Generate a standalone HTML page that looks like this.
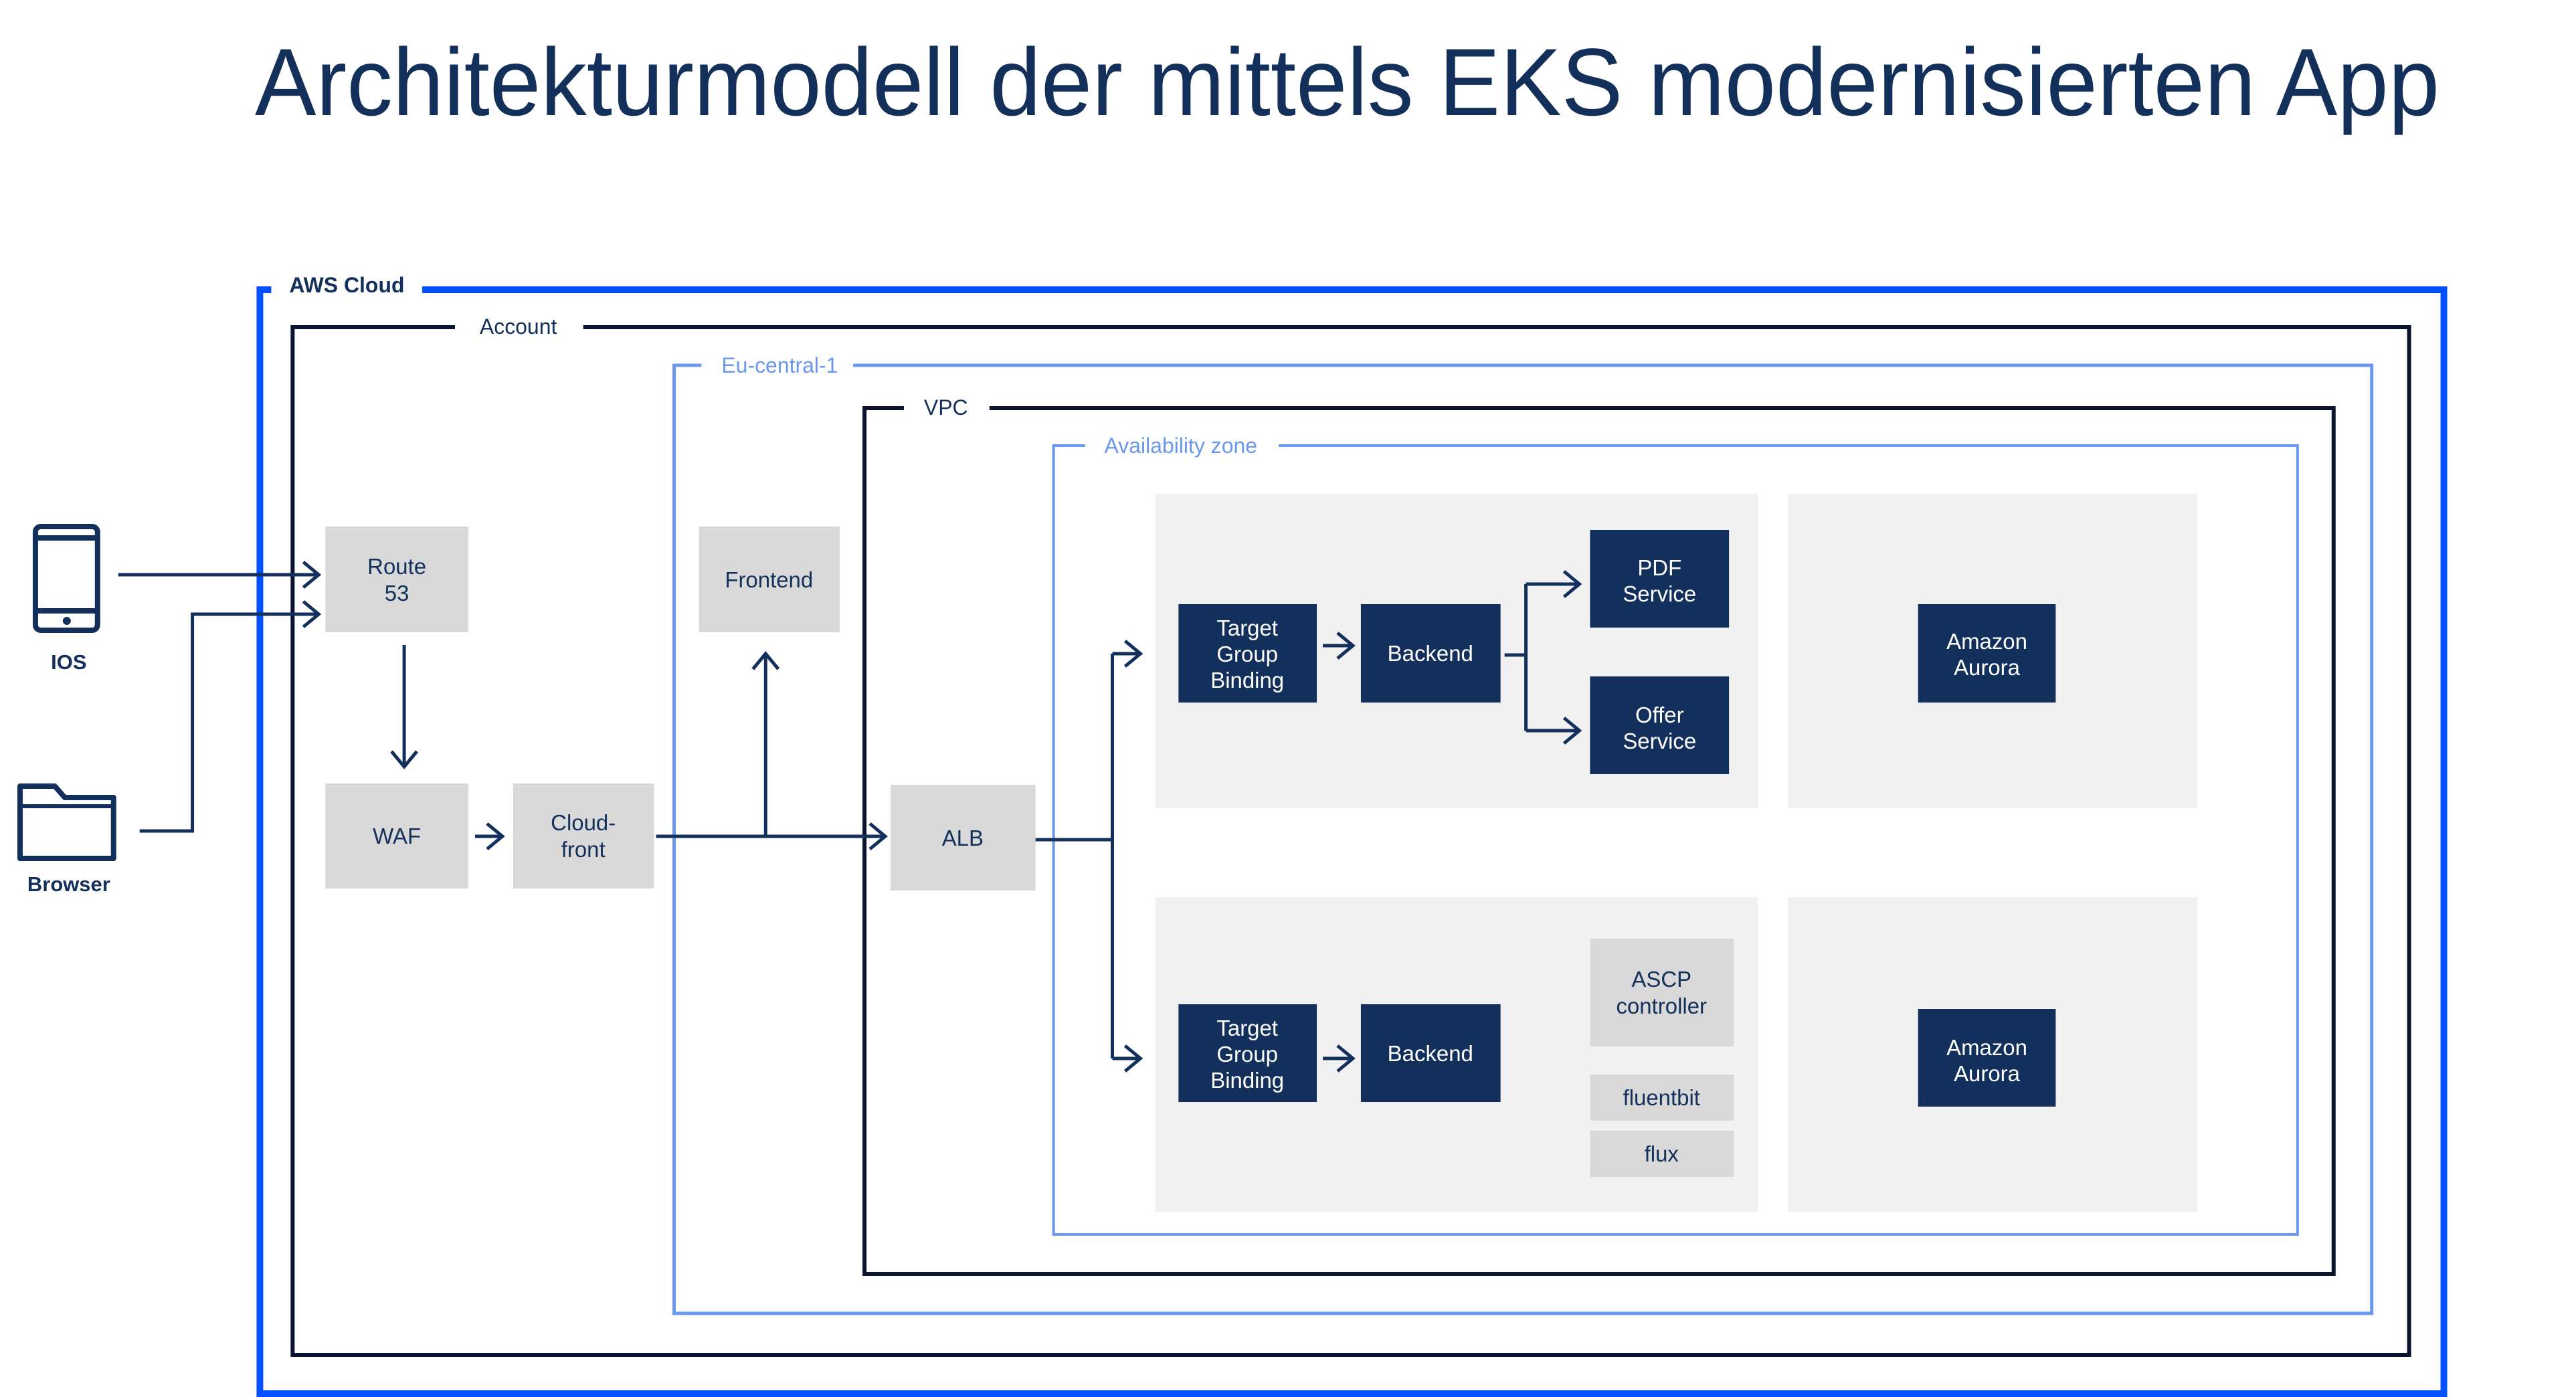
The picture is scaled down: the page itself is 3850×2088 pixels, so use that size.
<!DOCTYPE html>
<html><head><meta charset="utf-8"><style>
html,body{margin:0;padding:0;background:#fff;}
svg{display:block;}
text{font-family:"Liberation Sans",Arial,sans-serif;}
</style></head><body>
<svg width="3850" height="2088" viewBox="0 0 3850 2088" xmlns="http://www.w3.org/2000/svg">
<defs>
<marker id="a" markerWidth="30" markerHeight="44" refX="26" refY="22" orient="auto" markerUnits="userSpaceOnUse">
<path d="M3,3 L26,22 L3,41" fill="none" stroke="#132f5c" stroke-width="5"/>
</marker>
</defs>
<rect width="3850" height="2088" fill="#fff"/>
<text x="381" y="172" font-size="143" fill="#13305b" textLength="3265" lengthAdjust="spacingAndGlyphs">Architekturmodell der mittels EKS modernisierten App</text>
<g transform="scale(0.9985 1)">
<!-- containers -->
<rect x="389" y="433" width="3269" height="1650" fill="none" stroke="#0050ff" stroke-width="10"/>
<rect x="406" y="415" width="226" height="30" fill="#fff"/>
<text x="433" y="437" font-size="32" font-weight="bold" fill="#13305b">AWS Cloud</text>

<rect x="438" y="489" width="3168" height="1536" fill="none" stroke="#0a1330" stroke-width="6"/>
<rect x="681" y="475" width="192" height="30" fill="#fff"/>
<text x="718" y="499" font-size="32" fill="#13305b">Account</text>

<rect x="1009" y="546" width="2541" height="1417" fill="none" stroke="#6a98f0" stroke-width="5"/>
<rect x="1050" y="530" width="227" height="30" fill="#fff"/>
<text x="1080" y="557" font-size="32" fill="#6a98f0">Eu-central-1</text>

<rect x="1294" y="610" width="2199" height="1294" fill="none" stroke="#0a1330" stroke-width="6"/>
<rect x="1353" y="595" width="128" height="30" fill="#fff"/>
<text x="1383" y="620" font-size="32" fill="#13305b">VPC</text>

<rect x="1577" y="666" width="1862" height="1179" fill="none" stroke="#6a98f0" stroke-width="4"/>
<rect x="1624" y="652" width="290" height="30" fill="#fff"/>
<text x="1653" y="677" font-size="32" fill="#6a98f0">Availability zone</text>

<!-- panels -->
<g fill="#f1f1f1">
<rect x="1729" y="738" width="902" height="470"/>
<rect x="2676" y="738" width="613" height="470"/>
<rect x="1729" y="1341" width="902" height="470"/>
<rect x="2676" y="1341" width="613" height="470"/>
</g>

<!-- light boxes -->
<g fill="#d9d9d9">
<rect x="487" y="787" width="214" height="158"/>
<rect x="487" y="1171" width="214" height="157"/>
<rect x="768" y="1171" width="211" height="157"/>
<rect x="1046" y="787" width="211" height="158"/>
<rect x="1333" y="1173" width="217" height="158"/>
<rect x="2380" y="1403" width="215" height="161"/>
<rect x="2380" y="1606" width="215" height="69"/>
<rect x="2380" y="1690" width="215" height="69"/>
</g>
<g font-size="33" fill="#13305b" text-anchor="middle">
<text x="594" y="858">Route</text><text x="594" y="898">53</text>
<text x="594" y="1261">WAF</text>
<text x="873" y="1241">Cloud-</text><text x="873" y="1281">front</text>
<text x="1151" y="878">Frontend</text>
<text x="1441" y="1264">ALB</text>
<text x="2487" y="1475">ASCP</text><text x="2487" y="1515">controller</text>
<text x="2487" y="1652">fluentbit</text>
<text x="2487" y="1736">flux</text>
</g>

<!-- navy boxes -->
<g fill="#132f5c">
<rect x="1764" y="903" width="207" height="147"/>
<rect x="2037" y="903" width="209" height="147"/>
<rect x="2380" y="792" width="208" height="146"/>
<rect x="2380" y="1011" width="208" height="146"/>
<rect x="2871" y="903" width="206" height="147"/>
<rect x="1764" y="1501" width="207" height="146"/>
<rect x="2037" y="1501" width="209" height="146"/>
<rect x="2871" y="1508" width="206" height="146"/>
</g>
<g font-size="33" fill="#fff" text-anchor="middle">
<text x="1867" y="950">Target</text><text x="1867" y="989">Group</text><text x="1867" y="1028">Binding</text>
<text x="2141" y="988">Backend</text>
<text x="2484" y="860">PDF</text><text x="2484" y="899">Service</text>
<text x="2484" y="1080">Offer</text><text x="2484" y="1119">Service</text>
<text x="2974" y="970">Amazon</text><text x="2974" y="1009">Aurora</text>
<text x="1867" y="1548">Target</text><text x="1867" y="1587">Group</text><text x="1867" y="1626">Binding</text>
<text x="2141" y="1586">Backend</text>
<text x="2974" y="1577">Amazon</text><text x="2974" y="1616">Aurora</text>
</g>

<!-- connectors -->
<g fill="none" stroke="#132f5c" stroke-width="5">
<path d="M177,859 H477" marker-end="url(#a)"/>
<path d="M209,1242 H288 V918 H477" marker-end="url(#a)"/>
<path d="M605,964 V1146" marker-end="url(#a)"/>
<path d="M711,1250 H752" marker-end="url(#a)"/>
<path d="M982,1250 H1325" marker-end="url(#a)"/>
<path d="M1146,1250 V977" marker-end="url(#a)"/>
<path d="M1550,1255 H1665"/>
<path d="M1665,977 V1582"/>
<path d="M1665,977 H1707" marker-end="url(#a)"/>
<path d="M1665,1582 H1707" marker-end="url(#a)"/>
<path d="M1980,965 H2025" marker-end="url(#a)"/>
<path d="M1980,1582 H2025" marker-end="url(#a)"/>
<path d="M2252,979 H2284"/>
<path d="M2284,873 V1092"/>
<path d="M2284,873 H2364" marker-end="url(#a)"/>
<path d="M2284,1092 H2364" marker-end="url(#a)"/>
</g>

<!-- iOS icon -->
<g fill="none" stroke="#132f5c" stroke-width="8">
<rect x="53" y="787" width="93" height="155" rx="8"/>
<line x1="53" y1="804" x2="146" y2="804"/>
<line x1="53" y1="913" x2="146" y2="913"/>
</g>
<circle cx="100" cy="928" r="6" fill="#132f5c"/>
<text x="103" y="1000" font-size="31" font-weight="bold" fill="#132f5c" text-anchor="middle">IOS</text>

<!-- Browser folder -->
<path d="M30,1175 H82 L97,1192 H170 V1283 H30 Z" fill="none" stroke="#132f5c" stroke-width="8" stroke-linejoin="round"/>
<line x1="30" y1="1205" x2="170" y2="1205" stroke="#132f5c" stroke-width="6"/>
<text x="103" y="1332" font-size="31" font-weight="bold" fill="#132f5c" text-anchor="middle">Browser</text>
</g>
</svg>
</body></html>
